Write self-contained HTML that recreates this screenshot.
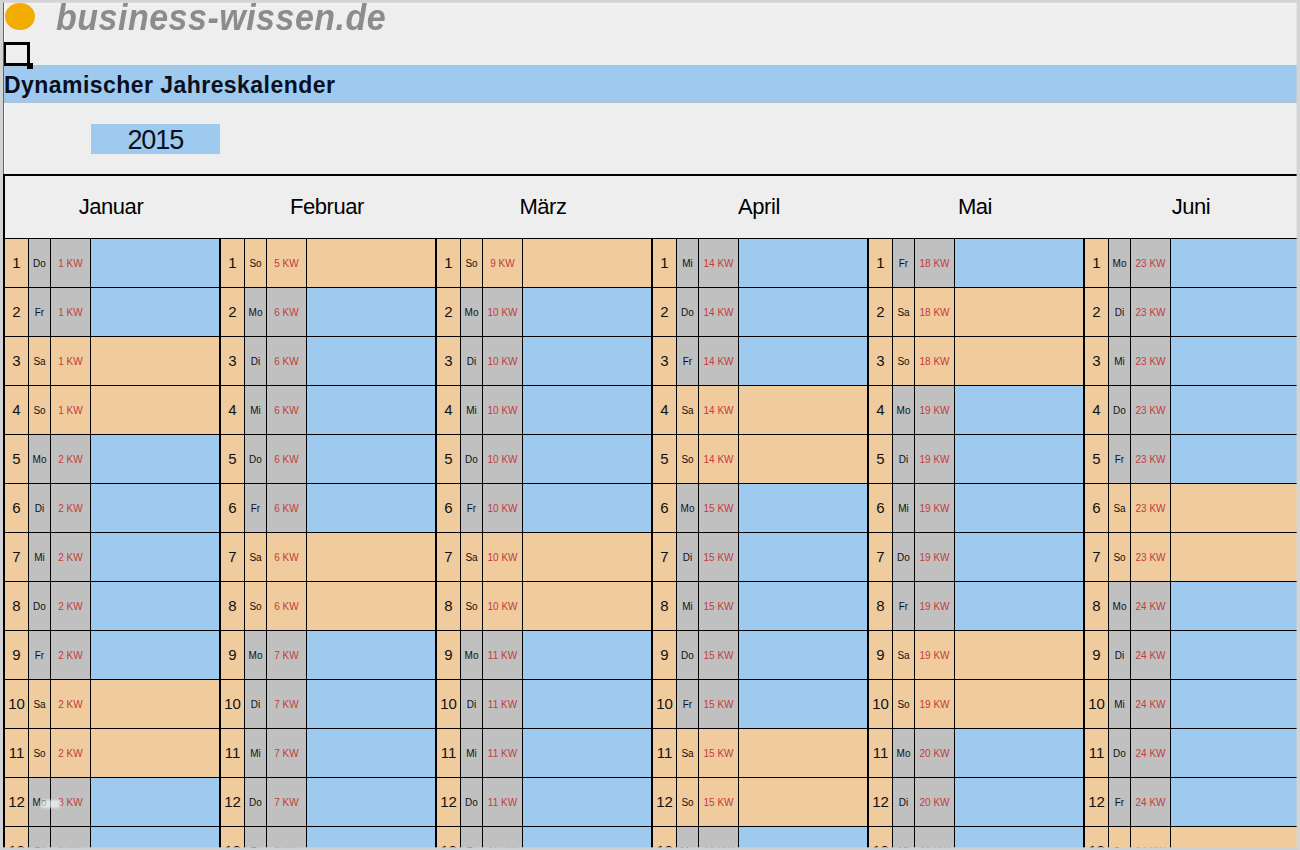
<!DOCTYPE html>
<html lang="de"><head><meta charset="utf-8"><title>Dynamischer Jahreskalender</title>
<style>
*{margin:0;padding:0;box-sizing:border-box}
html,body{width:1300px;height:850px;overflow:hidden;background:#eeeeee;font-family:"Liberation Sans",Arial,sans-serif}
.a{position:absolute}
.c{position:absolute;text-align:center;white-space:nowrap}
.n{font-size:15px;color:#111111}
.w{font-size:10px;color:#111111}
.k{font-size:10px;color:#c43c3c}
.m{font-size:22px;letter-spacing:-0.45px;color:#000}
</style></head><body>
<div class="a" style="left:0px;top:3px;width:1300px;height:2px;background:#f1f1f1;"></div><div class="a" style="left:0px;top:7px;width:1300px;height:1px;background:#f2f2f2;"></div><div class="a" style="left:3px;top:0px;width:1px;height:175px;background:#666666;"></div><div class="a" style="left:4px;top:5px;width:1px;height:170px;background:#f8f8f8;"></div><div class="a" style="left:5px;top:2.5px;width:30px;height:27.5px;border-radius:50%;background:#f2ac00"></div><div class="a" style="left:0px;top:0px;width:1300px;height:2px;background:#d3d3d3;"></div><div class="a" style="left:0px;top:2px;width:1300px;height:1px;background:rgba(208,208,208,0.6);"></div><div class="a" style="left:0px;top:0px;width:3px;height:850px;background:#d3d3d3;"></div><div class="a" style="left:56px;top:-4px;font:italic bold 34px/40px 'Liberation Sans',sans-serif;letter-spacing:0.5px;transform:scaleY(1.06);transform-origin:0 0;color:#8c8c8c;white-space:nowrap">business-wissen.de</div><div class="a" style="left:4px;top:65px;width:1293px;height:38px;background:#9ecaef;"></div><div class="a" style="left:4px;top:65px;width:1293px;height:2px;background:#a5c6df;"></div><div class="a" style="left:4px;top:100px;width:1293px;height:3px;background:#a6c5dc;"></div><div class="a" style="left:4px;top:64px;width:1293px;height:1px;background:#e6f3fa;"></div><div class="a" style="left:4px;top:103px;width:1293px;height:1px;background:#e9f2f8;"></div><div class="a" style="left:4px;top:72px;font:bold 23px/26px 'Liberation Sans',sans-serif;letter-spacing:0.45px;color:#0a0f1e;white-space:nowrap">Dynamischer Jahreskalender</div><div class="a" style="left:4px;top:42px;width:26px;height:24px;border:3px solid #000;border-left-width:2px"></div><div class="a" style="left:27px;top:63px;width:6px;height:6px;background:#000;"></div><div class="a" style="left:91px;top:124px;width:129px;height:30px;background:#9ecaef;"></div><div class="c" style="left:91px;top:124px;width:129px;height:30px;font-size:27px;line-height:33px;letter-spacing:-1.1px;text-indent:-0.5px;color:#0a1020">2015</div><div class="a" style="left:3px;top:174px;width:1294px;height:2px;background:#000;"></div><div class="a" style="left:3px;top:174px;width:2px;height:64px;background:#000;"></div><div class="c m" style="left:3px;top:194px;width:216px;height:26px;line-height:26px">Januar</div><div class="c m" style="left:219px;top:194px;width:216px;height:26px;line-height:26px">Februar</div><div class="c m" style="left:435px;top:194px;width:216px;height:26px;line-height:26px">März</div><div class="c m" style="left:651px;top:194px;width:216px;height:26px;line-height:26px">April</div><div class="c m" style="left:867px;top:194px;width:216px;height:26px;line-height:26px">Mai</div><div class="c m" style="left:1083px;top:194px;width:216px;height:26px;line-height:26px">Juni</div><div class="a" style="left:5px;top:239px;width:23px;height:48px;background:#efcb9d;"></div><div class="a" style="left:29px;top:239px;width:21px;height:48px;background:#c0c0c0;"></div><div class="a" style="left:51px;top:239px;width:39px;height:48px;background:#c0c0c0;"></div><div class="a" style="left:91px;top:239px;width:128px;height:48px;background:#9ecaef;"></div><div class="c n" style="left:5px;top:239px;width:23px;height:48px;line-height:48px">1</div><div class="c w" style="left:29px;top:240px;width:21px;height:48px;line-height:48px">Do</div><div class="c k" style="left:51px;top:240px;width:39px;height:48px;line-height:48px">1 KW</div><div class="a" style="left:5px;top:288px;width:23px;height:48px;background:#efcb9d;"></div><div class="a" style="left:29px;top:288px;width:21px;height:48px;background:#c0c0c0;"></div><div class="a" style="left:51px;top:288px;width:39px;height:48px;background:#c0c0c0;"></div><div class="a" style="left:91px;top:288px;width:128px;height:48px;background:#9ecaef;"></div><div class="c n" style="left:5px;top:288px;width:23px;height:48px;line-height:48px">2</div><div class="c w" style="left:29px;top:289px;width:21px;height:48px;line-height:48px">Fr</div><div class="c k" style="left:51px;top:289px;width:39px;height:48px;line-height:48px">1 KW</div><div class="a" style="left:5px;top:337px;width:23px;height:48px;background:#efcb9d;"></div><div class="a" style="left:29px;top:337px;width:21px;height:48px;background:#efcb9d;"></div><div class="a" style="left:51px;top:337px;width:39px;height:48px;background:#efcb9d;"></div><div class="a" style="left:91px;top:337px;width:128px;height:48px;background:#efcb9d;"></div><div class="c n" style="left:5px;top:337px;width:23px;height:48px;line-height:48px">3</div><div class="c w" style="left:29px;top:338px;width:21px;height:48px;line-height:48px">Sa</div><div class="c k" style="left:51px;top:338px;width:39px;height:48px;line-height:48px">1 KW</div><div class="a" style="left:5px;top:386px;width:23px;height:48px;background:#efcb9d;"></div><div class="a" style="left:29px;top:386px;width:21px;height:48px;background:#efcb9d;"></div><div class="a" style="left:51px;top:386px;width:39px;height:48px;background:#efcb9d;"></div><div class="a" style="left:91px;top:386px;width:128px;height:48px;background:#efcb9d;"></div><div class="c n" style="left:5px;top:386px;width:23px;height:48px;line-height:48px">4</div><div class="c w" style="left:29px;top:387px;width:21px;height:48px;line-height:48px">So</div><div class="c k" style="left:51px;top:387px;width:39px;height:48px;line-height:48px">1 KW</div><div class="a" style="left:5px;top:435px;width:23px;height:48px;background:#efcb9d;"></div><div class="a" style="left:29px;top:435px;width:21px;height:48px;background:#c0c0c0;"></div><div class="a" style="left:51px;top:435px;width:39px;height:48px;background:#c0c0c0;"></div><div class="a" style="left:91px;top:435px;width:128px;height:48px;background:#9ecaef;"></div><div class="c n" style="left:5px;top:435px;width:23px;height:48px;line-height:48px">5</div><div class="c w" style="left:29px;top:436px;width:21px;height:48px;line-height:48px">Mo</div><div class="c k" style="left:51px;top:436px;width:39px;height:48px;line-height:48px">2 KW</div><div class="a" style="left:5px;top:484px;width:23px;height:48px;background:#efcb9d;"></div><div class="a" style="left:29px;top:484px;width:21px;height:48px;background:#c0c0c0;"></div><div class="a" style="left:51px;top:484px;width:39px;height:48px;background:#c0c0c0;"></div><div class="a" style="left:91px;top:484px;width:128px;height:48px;background:#9ecaef;"></div><div class="c n" style="left:5px;top:484px;width:23px;height:48px;line-height:48px">6</div><div class="c w" style="left:29px;top:485px;width:21px;height:48px;line-height:48px">Di</div><div class="c k" style="left:51px;top:485px;width:39px;height:48px;line-height:48px">2 KW</div><div class="a" style="left:5px;top:533px;width:23px;height:48px;background:#efcb9d;"></div><div class="a" style="left:29px;top:533px;width:21px;height:48px;background:#c0c0c0;"></div><div class="a" style="left:51px;top:533px;width:39px;height:48px;background:#c0c0c0;"></div><div class="a" style="left:91px;top:533px;width:128px;height:48px;background:#9ecaef;"></div><div class="c n" style="left:5px;top:533px;width:23px;height:48px;line-height:48px">7</div><div class="c w" style="left:29px;top:534px;width:21px;height:48px;line-height:48px">Mi</div><div class="c k" style="left:51px;top:534px;width:39px;height:48px;line-height:48px">2 KW</div><div class="a" style="left:5px;top:582px;width:23px;height:48px;background:#efcb9d;"></div><div class="a" style="left:29px;top:582px;width:21px;height:48px;background:#c0c0c0;"></div><div class="a" style="left:51px;top:582px;width:39px;height:48px;background:#c0c0c0;"></div><div class="a" style="left:91px;top:582px;width:128px;height:48px;background:#9ecaef;"></div><div class="c n" style="left:5px;top:582px;width:23px;height:48px;line-height:48px">8</div><div class="c w" style="left:29px;top:583px;width:21px;height:48px;line-height:48px">Do</div><div class="c k" style="left:51px;top:583px;width:39px;height:48px;line-height:48px">2 KW</div><div class="a" style="left:5px;top:631px;width:23px;height:48px;background:#efcb9d;"></div><div class="a" style="left:29px;top:631px;width:21px;height:48px;background:#c0c0c0;"></div><div class="a" style="left:51px;top:631px;width:39px;height:48px;background:#c0c0c0;"></div><div class="a" style="left:91px;top:631px;width:128px;height:48px;background:#9ecaef;"></div><div class="c n" style="left:5px;top:631px;width:23px;height:48px;line-height:48px">9</div><div class="c w" style="left:29px;top:632px;width:21px;height:48px;line-height:48px">Fr</div><div class="c k" style="left:51px;top:632px;width:39px;height:48px;line-height:48px">2 KW</div><div class="a" style="left:5px;top:680px;width:23px;height:48px;background:#efcb9d;"></div><div class="a" style="left:29px;top:680px;width:21px;height:48px;background:#efcb9d;"></div><div class="a" style="left:51px;top:680px;width:39px;height:48px;background:#efcb9d;"></div><div class="a" style="left:91px;top:680px;width:128px;height:48px;background:#efcb9d;"></div><div class="c n" style="left:5px;top:680px;width:23px;height:48px;line-height:48px">10</div><div class="c w" style="left:29px;top:681px;width:21px;height:48px;line-height:48px">Sa</div><div class="c k" style="left:51px;top:681px;width:39px;height:48px;line-height:48px">2 KW</div><div class="a" style="left:5px;top:729px;width:23px;height:48px;background:#efcb9d;"></div><div class="a" style="left:29px;top:729px;width:21px;height:48px;background:#efcb9d;"></div><div class="a" style="left:51px;top:729px;width:39px;height:48px;background:#efcb9d;"></div><div class="a" style="left:91px;top:729px;width:128px;height:48px;background:#efcb9d;"></div><div class="c n" style="left:5px;top:729px;width:23px;height:48px;line-height:48px">11</div><div class="c w" style="left:29px;top:730px;width:21px;height:48px;line-height:48px">So</div><div class="c k" style="left:51px;top:730px;width:39px;height:48px;line-height:48px">2 KW</div><div class="a" style="left:5px;top:778px;width:23px;height:48px;background:#efcb9d;"></div><div class="a" style="left:29px;top:778px;width:21px;height:48px;background:#c0c0c0;"></div><div class="a" style="left:51px;top:778px;width:39px;height:48px;background:#c0c0c0;"></div><div class="a" style="left:91px;top:778px;width:128px;height:48px;background:#9ecaef;"></div><div class="c n" style="left:5px;top:778px;width:23px;height:48px;line-height:48px">12</div><div class="c w" style="left:29px;top:779px;width:21px;height:48px;line-height:48px">Mo</div><div class="c k" style="left:51px;top:779px;width:39px;height:48px;line-height:48px">3 KW</div><div class="a" style="left:5px;top:827px;width:23px;height:48px;background:#efcb9d;"></div><div class="a" style="left:29px;top:827px;width:21px;height:48px;background:#c0c0c0;"></div><div class="a" style="left:51px;top:827px;width:39px;height:48px;background:#c0c0c0;"></div><div class="a" style="left:91px;top:827px;width:128px;height:48px;background:#9ecaef;"></div><div class="c n" style="left:5px;top:827px;width:23px;height:48px;line-height:48px">13</div><div class="c w" style="left:29px;top:828px;width:21px;height:48px;line-height:48px">Di</div><div class="c k" style="left:51px;top:828px;width:39px;height:48px;line-height:48px">3 KW</div><div class="a" style="left:221px;top:239px;width:23px;height:48px;background:#efcb9d;"></div><div class="a" style="left:245px;top:239px;width:21px;height:48px;background:#efcb9d;"></div><div class="a" style="left:267px;top:239px;width:39px;height:48px;background:#efcb9d;"></div><div class="a" style="left:307px;top:239px;width:128px;height:48px;background:#efcb9d;"></div><div class="c n" style="left:221px;top:239px;width:23px;height:48px;line-height:48px">1</div><div class="c w" style="left:245px;top:240px;width:21px;height:48px;line-height:48px">So</div><div class="c k" style="left:267px;top:240px;width:39px;height:48px;line-height:48px">5 KW</div><div class="a" style="left:221px;top:288px;width:23px;height:48px;background:#efcb9d;"></div><div class="a" style="left:245px;top:288px;width:21px;height:48px;background:#c0c0c0;"></div><div class="a" style="left:267px;top:288px;width:39px;height:48px;background:#c0c0c0;"></div><div class="a" style="left:307px;top:288px;width:128px;height:48px;background:#9ecaef;"></div><div class="c n" style="left:221px;top:288px;width:23px;height:48px;line-height:48px">2</div><div class="c w" style="left:245px;top:289px;width:21px;height:48px;line-height:48px">Mo</div><div class="c k" style="left:267px;top:289px;width:39px;height:48px;line-height:48px">6 KW</div><div class="a" style="left:221px;top:337px;width:23px;height:48px;background:#efcb9d;"></div><div class="a" style="left:245px;top:337px;width:21px;height:48px;background:#c0c0c0;"></div><div class="a" style="left:267px;top:337px;width:39px;height:48px;background:#c0c0c0;"></div><div class="a" style="left:307px;top:337px;width:128px;height:48px;background:#9ecaef;"></div><div class="c n" style="left:221px;top:337px;width:23px;height:48px;line-height:48px">3</div><div class="c w" style="left:245px;top:338px;width:21px;height:48px;line-height:48px">Di</div><div class="c k" style="left:267px;top:338px;width:39px;height:48px;line-height:48px">6 KW</div><div class="a" style="left:221px;top:386px;width:23px;height:48px;background:#efcb9d;"></div><div class="a" style="left:245px;top:386px;width:21px;height:48px;background:#c0c0c0;"></div><div class="a" style="left:267px;top:386px;width:39px;height:48px;background:#c0c0c0;"></div><div class="a" style="left:307px;top:386px;width:128px;height:48px;background:#9ecaef;"></div><div class="c n" style="left:221px;top:386px;width:23px;height:48px;line-height:48px">4</div><div class="c w" style="left:245px;top:387px;width:21px;height:48px;line-height:48px">Mi</div><div class="c k" style="left:267px;top:387px;width:39px;height:48px;line-height:48px">6 KW</div><div class="a" style="left:221px;top:435px;width:23px;height:48px;background:#efcb9d;"></div><div class="a" style="left:245px;top:435px;width:21px;height:48px;background:#c0c0c0;"></div><div class="a" style="left:267px;top:435px;width:39px;height:48px;background:#c0c0c0;"></div><div class="a" style="left:307px;top:435px;width:128px;height:48px;background:#9ecaef;"></div><div class="c n" style="left:221px;top:435px;width:23px;height:48px;line-height:48px">5</div><div class="c w" style="left:245px;top:436px;width:21px;height:48px;line-height:48px">Do</div><div class="c k" style="left:267px;top:436px;width:39px;height:48px;line-height:48px">6 KW</div><div class="a" style="left:221px;top:484px;width:23px;height:48px;background:#efcb9d;"></div><div class="a" style="left:245px;top:484px;width:21px;height:48px;background:#c0c0c0;"></div><div class="a" style="left:267px;top:484px;width:39px;height:48px;background:#c0c0c0;"></div><div class="a" style="left:307px;top:484px;width:128px;height:48px;background:#9ecaef;"></div><div class="c n" style="left:221px;top:484px;width:23px;height:48px;line-height:48px">6</div><div class="c w" style="left:245px;top:485px;width:21px;height:48px;line-height:48px">Fr</div><div class="c k" style="left:267px;top:485px;width:39px;height:48px;line-height:48px">6 KW</div><div class="a" style="left:221px;top:533px;width:23px;height:48px;background:#efcb9d;"></div><div class="a" style="left:245px;top:533px;width:21px;height:48px;background:#efcb9d;"></div><div class="a" style="left:267px;top:533px;width:39px;height:48px;background:#efcb9d;"></div><div class="a" style="left:307px;top:533px;width:128px;height:48px;background:#efcb9d;"></div><div class="c n" style="left:221px;top:533px;width:23px;height:48px;line-height:48px">7</div><div class="c w" style="left:245px;top:534px;width:21px;height:48px;line-height:48px">Sa</div><div class="c k" style="left:267px;top:534px;width:39px;height:48px;line-height:48px">6 KW</div><div class="a" style="left:221px;top:582px;width:23px;height:48px;background:#efcb9d;"></div><div class="a" style="left:245px;top:582px;width:21px;height:48px;background:#efcb9d;"></div><div class="a" style="left:267px;top:582px;width:39px;height:48px;background:#efcb9d;"></div><div class="a" style="left:307px;top:582px;width:128px;height:48px;background:#efcb9d;"></div><div class="c n" style="left:221px;top:582px;width:23px;height:48px;line-height:48px">8</div><div class="c w" style="left:245px;top:583px;width:21px;height:48px;line-height:48px">So</div><div class="c k" style="left:267px;top:583px;width:39px;height:48px;line-height:48px">6 KW</div><div class="a" style="left:221px;top:631px;width:23px;height:48px;background:#efcb9d;"></div><div class="a" style="left:245px;top:631px;width:21px;height:48px;background:#c0c0c0;"></div><div class="a" style="left:267px;top:631px;width:39px;height:48px;background:#c0c0c0;"></div><div class="a" style="left:307px;top:631px;width:128px;height:48px;background:#9ecaef;"></div><div class="c n" style="left:221px;top:631px;width:23px;height:48px;line-height:48px">9</div><div class="c w" style="left:245px;top:632px;width:21px;height:48px;line-height:48px">Mo</div><div class="c k" style="left:267px;top:632px;width:39px;height:48px;line-height:48px">7 KW</div><div class="a" style="left:221px;top:680px;width:23px;height:48px;background:#efcb9d;"></div><div class="a" style="left:245px;top:680px;width:21px;height:48px;background:#c0c0c0;"></div><div class="a" style="left:267px;top:680px;width:39px;height:48px;background:#c0c0c0;"></div><div class="a" style="left:307px;top:680px;width:128px;height:48px;background:#9ecaef;"></div><div class="c n" style="left:221px;top:680px;width:23px;height:48px;line-height:48px">10</div><div class="c w" style="left:245px;top:681px;width:21px;height:48px;line-height:48px">Di</div><div class="c k" style="left:267px;top:681px;width:39px;height:48px;line-height:48px">7 KW</div><div class="a" style="left:221px;top:729px;width:23px;height:48px;background:#efcb9d;"></div><div class="a" style="left:245px;top:729px;width:21px;height:48px;background:#c0c0c0;"></div><div class="a" style="left:267px;top:729px;width:39px;height:48px;background:#c0c0c0;"></div><div class="a" style="left:307px;top:729px;width:128px;height:48px;background:#9ecaef;"></div><div class="c n" style="left:221px;top:729px;width:23px;height:48px;line-height:48px">11</div><div class="c w" style="left:245px;top:730px;width:21px;height:48px;line-height:48px">Mi</div><div class="c k" style="left:267px;top:730px;width:39px;height:48px;line-height:48px">7 KW</div><div class="a" style="left:221px;top:778px;width:23px;height:48px;background:#efcb9d;"></div><div class="a" style="left:245px;top:778px;width:21px;height:48px;background:#c0c0c0;"></div><div class="a" style="left:267px;top:778px;width:39px;height:48px;background:#c0c0c0;"></div><div class="a" style="left:307px;top:778px;width:128px;height:48px;background:#9ecaef;"></div><div class="c n" style="left:221px;top:778px;width:23px;height:48px;line-height:48px">12</div><div class="c w" style="left:245px;top:779px;width:21px;height:48px;line-height:48px">Do</div><div class="c k" style="left:267px;top:779px;width:39px;height:48px;line-height:48px">7 KW</div><div class="a" style="left:221px;top:827px;width:23px;height:48px;background:#efcb9d;"></div><div class="a" style="left:245px;top:827px;width:21px;height:48px;background:#c0c0c0;"></div><div class="a" style="left:267px;top:827px;width:39px;height:48px;background:#c0c0c0;"></div><div class="a" style="left:307px;top:827px;width:128px;height:48px;background:#9ecaef;"></div><div class="c n" style="left:221px;top:827px;width:23px;height:48px;line-height:48px">13</div><div class="c w" style="left:245px;top:828px;width:21px;height:48px;line-height:48px">Fr</div><div class="c k" style="left:267px;top:828px;width:39px;height:48px;line-height:48px">7 KW</div><div class="a" style="left:437px;top:239px;width:23px;height:48px;background:#efcb9d;"></div><div class="a" style="left:461px;top:239px;width:21px;height:48px;background:#efcb9d;"></div><div class="a" style="left:483px;top:239px;width:39px;height:48px;background:#efcb9d;"></div><div class="a" style="left:523px;top:239px;width:128px;height:48px;background:#efcb9d;"></div><div class="c n" style="left:437px;top:239px;width:23px;height:48px;line-height:48px">1</div><div class="c w" style="left:461px;top:240px;width:21px;height:48px;line-height:48px">So</div><div class="c k" style="left:483px;top:240px;width:39px;height:48px;line-height:48px">9 KW</div><div class="a" style="left:437px;top:288px;width:23px;height:48px;background:#efcb9d;"></div><div class="a" style="left:461px;top:288px;width:21px;height:48px;background:#c0c0c0;"></div><div class="a" style="left:483px;top:288px;width:39px;height:48px;background:#c0c0c0;"></div><div class="a" style="left:523px;top:288px;width:128px;height:48px;background:#9ecaef;"></div><div class="c n" style="left:437px;top:288px;width:23px;height:48px;line-height:48px">2</div><div class="c w" style="left:461px;top:289px;width:21px;height:48px;line-height:48px">Mo</div><div class="c k" style="left:483px;top:289px;width:39px;height:48px;line-height:48px">10 KW</div><div class="a" style="left:437px;top:337px;width:23px;height:48px;background:#efcb9d;"></div><div class="a" style="left:461px;top:337px;width:21px;height:48px;background:#c0c0c0;"></div><div class="a" style="left:483px;top:337px;width:39px;height:48px;background:#c0c0c0;"></div><div class="a" style="left:523px;top:337px;width:128px;height:48px;background:#9ecaef;"></div><div class="c n" style="left:437px;top:337px;width:23px;height:48px;line-height:48px">3</div><div class="c w" style="left:461px;top:338px;width:21px;height:48px;line-height:48px">Di</div><div class="c k" style="left:483px;top:338px;width:39px;height:48px;line-height:48px">10 KW</div><div class="a" style="left:437px;top:386px;width:23px;height:48px;background:#efcb9d;"></div><div class="a" style="left:461px;top:386px;width:21px;height:48px;background:#c0c0c0;"></div><div class="a" style="left:483px;top:386px;width:39px;height:48px;background:#c0c0c0;"></div><div class="a" style="left:523px;top:386px;width:128px;height:48px;background:#9ecaef;"></div><div class="c n" style="left:437px;top:386px;width:23px;height:48px;line-height:48px">4</div><div class="c w" style="left:461px;top:387px;width:21px;height:48px;line-height:48px">Mi</div><div class="c k" style="left:483px;top:387px;width:39px;height:48px;line-height:48px">10 KW</div><div class="a" style="left:437px;top:435px;width:23px;height:48px;background:#efcb9d;"></div><div class="a" style="left:461px;top:435px;width:21px;height:48px;background:#c0c0c0;"></div><div class="a" style="left:483px;top:435px;width:39px;height:48px;background:#c0c0c0;"></div><div class="a" style="left:523px;top:435px;width:128px;height:48px;background:#9ecaef;"></div><div class="c n" style="left:437px;top:435px;width:23px;height:48px;line-height:48px">5</div><div class="c w" style="left:461px;top:436px;width:21px;height:48px;line-height:48px">Do</div><div class="c k" style="left:483px;top:436px;width:39px;height:48px;line-height:48px">10 KW</div><div class="a" style="left:437px;top:484px;width:23px;height:48px;background:#efcb9d;"></div><div class="a" style="left:461px;top:484px;width:21px;height:48px;background:#c0c0c0;"></div><div class="a" style="left:483px;top:484px;width:39px;height:48px;background:#c0c0c0;"></div><div class="a" style="left:523px;top:484px;width:128px;height:48px;background:#9ecaef;"></div><div class="c n" style="left:437px;top:484px;width:23px;height:48px;line-height:48px">6</div><div class="c w" style="left:461px;top:485px;width:21px;height:48px;line-height:48px">Fr</div><div class="c k" style="left:483px;top:485px;width:39px;height:48px;line-height:48px">10 KW</div><div class="a" style="left:437px;top:533px;width:23px;height:48px;background:#efcb9d;"></div><div class="a" style="left:461px;top:533px;width:21px;height:48px;background:#efcb9d;"></div><div class="a" style="left:483px;top:533px;width:39px;height:48px;background:#efcb9d;"></div><div class="a" style="left:523px;top:533px;width:128px;height:48px;background:#efcb9d;"></div><div class="c n" style="left:437px;top:533px;width:23px;height:48px;line-height:48px">7</div><div class="c w" style="left:461px;top:534px;width:21px;height:48px;line-height:48px">Sa</div><div class="c k" style="left:483px;top:534px;width:39px;height:48px;line-height:48px">10 KW</div><div class="a" style="left:437px;top:582px;width:23px;height:48px;background:#efcb9d;"></div><div class="a" style="left:461px;top:582px;width:21px;height:48px;background:#efcb9d;"></div><div class="a" style="left:483px;top:582px;width:39px;height:48px;background:#efcb9d;"></div><div class="a" style="left:523px;top:582px;width:128px;height:48px;background:#efcb9d;"></div><div class="c n" style="left:437px;top:582px;width:23px;height:48px;line-height:48px">8</div><div class="c w" style="left:461px;top:583px;width:21px;height:48px;line-height:48px">So</div><div class="c k" style="left:483px;top:583px;width:39px;height:48px;line-height:48px">10 KW</div><div class="a" style="left:437px;top:631px;width:23px;height:48px;background:#efcb9d;"></div><div class="a" style="left:461px;top:631px;width:21px;height:48px;background:#c0c0c0;"></div><div class="a" style="left:483px;top:631px;width:39px;height:48px;background:#c0c0c0;"></div><div class="a" style="left:523px;top:631px;width:128px;height:48px;background:#9ecaef;"></div><div class="c n" style="left:437px;top:631px;width:23px;height:48px;line-height:48px">9</div><div class="c w" style="left:461px;top:632px;width:21px;height:48px;line-height:48px">Mo</div><div class="c k" style="left:483px;top:632px;width:39px;height:48px;line-height:48px">11 KW</div><div class="a" style="left:437px;top:680px;width:23px;height:48px;background:#efcb9d;"></div><div class="a" style="left:461px;top:680px;width:21px;height:48px;background:#c0c0c0;"></div><div class="a" style="left:483px;top:680px;width:39px;height:48px;background:#c0c0c0;"></div><div class="a" style="left:523px;top:680px;width:128px;height:48px;background:#9ecaef;"></div><div class="c n" style="left:437px;top:680px;width:23px;height:48px;line-height:48px">10</div><div class="c w" style="left:461px;top:681px;width:21px;height:48px;line-height:48px">Di</div><div class="c k" style="left:483px;top:681px;width:39px;height:48px;line-height:48px">11 KW</div><div class="a" style="left:437px;top:729px;width:23px;height:48px;background:#efcb9d;"></div><div class="a" style="left:461px;top:729px;width:21px;height:48px;background:#c0c0c0;"></div><div class="a" style="left:483px;top:729px;width:39px;height:48px;background:#c0c0c0;"></div><div class="a" style="left:523px;top:729px;width:128px;height:48px;background:#9ecaef;"></div><div class="c n" style="left:437px;top:729px;width:23px;height:48px;line-height:48px">11</div><div class="c w" style="left:461px;top:730px;width:21px;height:48px;line-height:48px">Mi</div><div class="c k" style="left:483px;top:730px;width:39px;height:48px;line-height:48px">11 KW</div><div class="a" style="left:437px;top:778px;width:23px;height:48px;background:#efcb9d;"></div><div class="a" style="left:461px;top:778px;width:21px;height:48px;background:#c0c0c0;"></div><div class="a" style="left:483px;top:778px;width:39px;height:48px;background:#c0c0c0;"></div><div class="a" style="left:523px;top:778px;width:128px;height:48px;background:#9ecaef;"></div><div class="c n" style="left:437px;top:778px;width:23px;height:48px;line-height:48px">12</div><div class="c w" style="left:461px;top:779px;width:21px;height:48px;line-height:48px">Do</div><div class="c k" style="left:483px;top:779px;width:39px;height:48px;line-height:48px">11 KW</div><div class="a" style="left:437px;top:827px;width:23px;height:48px;background:#efcb9d;"></div><div class="a" style="left:461px;top:827px;width:21px;height:48px;background:#c0c0c0;"></div><div class="a" style="left:483px;top:827px;width:39px;height:48px;background:#c0c0c0;"></div><div class="a" style="left:523px;top:827px;width:128px;height:48px;background:#9ecaef;"></div><div class="c n" style="left:437px;top:827px;width:23px;height:48px;line-height:48px">13</div><div class="c w" style="left:461px;top:828px;width:21px;height:48px;line-height:48px">Fr</div><div class="c k" style="left:483px;top:828px;width:39px;height:48px;line-height:48px">11 KW</div><div class="a" style="left:653px;top:239px;width:23px;height:48px;background:#efcb9d;"></div><div class="a" style="left:677px;top:239px;width:21px;height:48px;background:#c0c0c0;"></div><div class="a" style="left:699px;top:239px;width:39px;height:48px;background:#c0c0c0;"></div><div class="a" style="left:739px;top:239px;width:128px;height:48px;background:#9ecaef;"></div><div class="c n" style="left:653px;top:239px;width:23px;height:48px;line-height:48px">1</div><div class="c w" style="left:677px;top:240px;width:21px;height:48px;line-height:48px">Mi</div><div class="c k" style="left:699px;top:240px;width:39px;height:48px;line-height:48px">14 KW</div><div class="a" style="left:653px;top:288px;width:23px;height:48px;background:#efcb9d;"></div><div class="a" style="left:677px;top:288px;width:21px;height:48px;background:#c0c0c0;"></div><div class="a" style="left:699px;top:288px;width:39px;height:48px;background:#c0c0c0;"></div><div class="a" style="left:739px;top:288px;width:128px;height:48px;background:#9ecaef;"></div><div class="c n" style="left:653px;top:288px;width:23px;height:48px;line-height:48px">2</div><div class="c w" style="left:677px;top:289px;width:21px;height:48px;line-height:48px">Do</div><div class="c k" style="left:699px;top:289px;width:39px;height:48px;line-height:48px">14 KW</div><div class="a" style="left:653px;top:337px;width:23px;height:48px;background:#efcb9d;"></div><div class="a" style="left:677px;top:337px;width:21px;height:48px;background:#c0c0c0;"></div><div class="a" style="left:699px;top:337px;width:39px;height:48px;background:#c0c0c0;"></div><div class="a" style="left:739px;top:337px;width:128px;height:48px;background:#9ecaef;"></div><div class="c n" style="left:653px;top:337px;width:23px;height:48px;line-height:48px">3</div><div class="c w" style="left:677px;top:338px;width:21px;height:48px;line-height:48px">Fr</div><div class="c k" style="left:699px;top:338px;width:39px;height:48px;line-height:48px">14 KW</div><div class="a" style="left:653px;top:386px;width:23px;height:48px;background:#efcb9d;"></div><div class="a" style="left:677px;top:386px;width:21px;height:48px;background:#efcb9d;"></div><div class="a" style="left:699px;top:386px;width:39px;height:48px;background:#efcb9d;"></div><div class="a" style="left:739px;top:386px;width:128px;height:48px;background:#efcb9d;"></div><div class="c n" style="left:653px;top:386px;width:23px;height:48px;line-height:48px">4</div><div class="c w" style="left:677px;top:387px;width:21px;height:48px;line-height:48px">Sa</div><div class="c k" style="left:699px;top:387px;width:39px;height:48px;line-height:48px">14 KW</div><div class="a" style="left:653px;top:435px;width:23px;height:48px;background:#efcb9d;"></div><div class="a" style="left:677px;top:435px;width:21px;height:48px;background:#efcb9d;"></div><div class="a" style="left:699px;top:435px;width:39px;height:48px;background:#efcb9d;"></div><div class="a" style="left:739px;top:435px;width:128px;height:48px;background:#efcb9d;"></div><div class="c n" style="left:653px;top:435px;width:23px;height:48px;line-height:48px">5</div><div class="c w" style="left:677px;top:436px;width:21px;height:48px;line-height:48px">So</div><div class="c k" style="left:699px;top:436px;width:39px;height:48px;line-height:48px">14 KW</div><div class="a" style="left:653px;top:484px;width:23px;height:48px;background:#efcb9d;"></div><div class="a" style="left:677px;top:484px;width:21px;height:48px;background:#c0c0c0;"></div><div class="a" style="left:699px;top:484px;width:39px;height:48px;background:#c0c0c0;"></div><div class="a" style="left:739px;top:484px;width:128px;height:48px;background:#9ecaef;"></div><div class="c n" style="left:653px;top:484px;width:23px;height:48px;line-height:48px">6</div><div class="c w" style="left:677px;top:485px;width:21px;height:48px;line-height:48px">Mo</div><div class="c k" style="left:699px;top:485px;width:39px;height:48px;line-height:48px">15 KW</div><div class="a" style="left:653px;top:533px;width:23px;height:48px;background:#efcb9d;"></div><div class="a" style="left:677px;top:533px;width:21px;height:48px;background:#c0c0c0;"></div><div class="a" style="left:699px;top:533px;width:39px;height:48px;background:#c0c0c0;"></div><div class="a" style="left:739px;top:533px;width:128px;height:48px;background:#9ecaef;"></div><div class="c n" style="left:653px;top:533px;width:23px;height:48px;line-height:48px">7</div><div class="c w" style="left:677px;top:534px;width:21px;height:48px;line-height:48px">Di</div><div class="c k" style="left:699px;top:534px;width:39px;height:48px;line-height:48px">15 KW</div><div class="a" style="left:653px;top:582px;width:23px;height:48px;background:#efcb9d;"></div><div class="a" style="left:677px;top:582px;width:21px;height:48px;background:#c0c0c0;"></div><div class="a" style="left:699px;top:582px;width:39px;height:48px;background:#c0c0c0;"></div><div class="a" style="left:739px;top:582px;width:128px;height:48px;background:#9ecaef;"></div><div class="c n" style="left:653px;top:582px;width:23px;height:48px;line-height:48px">8</div><div class="c w" style="left:677px;top:583px;width:21px;height:48px;line-height:48px">Mi</div><div class="c k" style="left:699px;top:583px;width:39px;height:48px;line-height:48px">15 KW</div><div class="a" style="left:653px;top:631px;width:23px;height:48px;background:#efcb9d;"></div><div class="a" style="left:677px;top:631px;width:21px;height:48px;background:#c0c0c0;"></div><div class="a" style="left:699px;top:631px;width:39px;height:48px;background:#c0c0c0;"></div><div class="a" style="left:739px;top:631px;width:128px;height:48px;background:#9ecaef;"></div><div class="c n" style="left:653px;top:631px;width:23px;height:48px;line-height:48px">9</div><div class="c w" style="left:677px;top:632px;width:21px;height:48px;line-height:48px">Do</div><div class="c k" style="left:699px;top:632px;width:39px;height:48px;line-height:48px">15 KW</div><div class="a" style="left:653px;top:680px;width:23px;height:48px;background:#efcb9d;"></div><div class="a" style="left:677px;top:680px;width:21px;height:48px;background:#c0c0c0;"></div><div class="a" style="left:699px;top:680px;width:39px;height:48px;background:#c0c0c0;"></div><div class="a" style="left:739px;top:680px;width:128px;height:48px;background:#9ecaef;"></div><div class="c n" style="left:653px;top:680px;width:23px;height:48px;line-height:48px">10</div><div class="c w" style="left:677px;top:681px;width:21px;height:48px;line-height:48px">Fr</div><div class="c k" style="left:699px;top:681px;width:39px;height:48px;line-height:48px">15 KW</div><div class="a" style="left:653px;top:729px;width:23px;height:48px;background:#efcb9d;"></div><div class="a" style="left:677px;top:729px;width:21px;height:48px;background:#efcb9d;"></div><div class="a" style="left:699px;top:729px;width:39px;height:48px;background:#efcb9d;"></div><div class="a" style="left:739px;top:729px;width:128px;height:48px;background:#efcb9d;"></div><div class="c n" style="left:653px;top:729px;width:23px;height:48px;line-height:48px">11</div><div class="c w" style="left:677px;top:730px;width:21px;height:48px;line-height:48px">Sa</div><div class="c k" style="left:699px;top:730px;width:39px;height:48px;line-height:48px">15 KW</div><div class="a" style="left:653px;top:778px;width:23px;height:48px;background:#efcb9d;"></div><div class="a" style="left:677px;top:778px;width:21px;height:48px;background:#efcb9d;"></div><div class="a" style="left:699px;top:778px;width:39px;height:48px;background:#efcb9d;"></div><div class="a" style="left:739px;top:778px;width:128px;height:48px;background:#efcb9d;"></div><div class="c n" style="left:653px;top:778px;width:23px;height:48px;line-height:48px">12</div><div class="c w" style="left:677px;top:779px;width:21px;height:48px;line-height:48px">So</div><div class="c k" style="left:699px;top:779px;width:39px;height:48px;line-height:48px">15 KW</div><div class="a" style="left:653px;top:827px;width:23px;height:48px;background:#efcb9d;"></div><div class="a" style="left:677px;top:827px;width:21px;height:48px;background:#c0c0c0;"></div><div class="a" style="left:699px;top:827px;width:39px;height:48px;background:#c0c0c0;"></div><div class="a" style="left:739px;top:827px;width:128px;height:48px;background:#9ecaef;"></div><div class="c n" style="left:653px;top:827px;width:23px;height:48px;line-height:48px">13</div><div class="c w" style="left:677px;top:828px;width:21px;height:48px;line-height:48px">Mo</div><div class="c k" style="left:699px;top:828px;width:39px;height:48px;line-height:48px">16 KW</div><div class="a" style="left:869px;top:239px;width:23px;height:48px;background:#efcb9d;"></div><div class="a" style="left:893px;top:239px;width:21px;height:48px;background:#c0c0c0;"></div><div class="a" style="left:915px;top:239px;width:39px;height:48px;background:#c0c0c0;"></div><div class="a" style="left:955px;top:239px;width:128px;height:48px;background:#9ecaef;"></div><div class="c n" style="left:869px;top:239px;width:23px;height:48px;line-height:48px">1</div><div class="c w" style="left:893px;top:240px;width:21px;height:48px;line-height:48px">Fr</div><div class="c k" style="left:915px;top:240px;width:39px;height:48px;line-height:48px">18 KW</div><div class="a" style="left:869px;top:288px;width:23px;height:48px;background:#efcb9d;"></div><div class="a" style="left:893px;top:288px;width:21px;height:48px;background:#efcb9d;"></div><div class="a" style="left:915px;top:288px;width:39px;height:48px;background:#efcb9d;"></div><div class="a" style="left:955px;top:288px;width:128px;height:48px;background:#efcb9d;"></div><div class="c n" style="left:869px;top:288px;width:23px;height:48px;line-height:48px">2</div><div class="c w" style="left:893px;top:289px;width:21px;height:48px;line-height:48px">Sa</div><div class="c k" style="left:915px;top:289px;width:39px;height:48px;line-height:48px">18 KW</div><div class="a" style="left:869px;top:337px;width:23px;height:48px;background:#efcb9d;"></div><div class="a" style="left:893px;top:337px;width:21px;height:48px;background:#efcb9d;"></div><div class="a" style="left:915px;top:337px;width:39px;height:48px;background:#efcb9d;"></div><div class="a" style="left:955px;top:337px;width:128px;height:48px;background:#efcb9d;"></div><div class="c n" style="left:869px;top:337px;width:23px;height:48px;line-height:48px">3</div><div class="c w" style="left:893px;top:338px;width:21px;height:48px;line-height:48px">So</div><div class="c k" style="left:915px;top:338px;width:39px;height:48px;line-height:48px">18 KW</div><div class="a" style="left:869px;top:386px;width:23px;height:48px;background:#efcb9d;"></div><div class="a" style="left:893px;top:386px;width:21px;height:48px;background:#c0c0c0;"></div><div class="a" style="left:915px;top:386px;width:39px;height:48px;background:#c0c0c0;"></div><div class="a" style="left:955px;top:386px;width:128px;height:48px;background:#9ecaef;"></div><div class="c n" style="left:869px;top:386px;width:23px;height:48px;line-height:48px">4</div><div class="c w" style="left:893px;top:387px;width:21px;height:48px;line-height:48px">Mo</div><div class="c k" style="left:915px;top:387px;width:39px;height:48px;line-height:48px">19 KW</div><div class="a" style="left:869px;top:435px;width:23px;height:48px;background:#efcb9d;"></div><div class="a" style="left:893px;top:435px;width:21px;height:48px;background:#c0c0c0;"></div><div class="a" style="left:915px;top:435px;width:39px;height:48px;background:#c0c0c0;"></div><div class="a" style="left:955px;top:435px;width:128px;height:48px;background:#9ecaef;"></div><div class="c n" style="left:869px;top:435px;width:23px;height:48px;line-height:48px">5</div><div class="c w" style="left:893px;top:436px;width:21px;height:48px;line-height:48px">Di</div><div class="c k" style="left:915px;top:436px;width:39px;height:48px;line-height:48px">19 KW</div><div class="a" style="left:869px;top:484px;width:23px;height:48px;background:#efcb9d;"></div><div class="a" style="left:893px;top:484px;width:21px;height:48px;background:#c0c0c0;"></div><div class="a" style="left:915px;top:484px;width:39px;height:48px;background:#c0c0c0;"></div><div class="a" style="left:955px;top:484px;width:128px;height:48px;background:#9ecaef;"></div><div class="c n" style="left:869px;top:484px;width:23px;height:48px;line-height:48px">6</div><div class="c w" style="left:893px;top:485px;width:21px;height:48px;line-height:48px">Mi</div><div class="c k" style="left:915px;top:485px;width:39px;height:48px;line-height:48px">19 KW</div><div class="a" style="left:869px;top:533px;width:23px;height:48px;background:#efcb9d;"></div><div class="a" style="left:893px;top:533px;width:21px;height:48px;background:#c0c0c0;"></div><div class="a" style="left:915px;top:533px;width:39px;height:48px;background:#c0c0c0;"></div><div class="a" style="left:955px;top:533px;width:128px;height:48px;background:#9ecaef;"></div><div class="c n" style="left:869px;top:533px;width:23px;height:48px;line-height:48px">7</div><div class="c w" style="left:893px;top:534px;width:21px;height:48px;line-height:48px">Do</div><div class="c k" style="left:915px;top:534px;width:39px;height:48px;line-height:48px">19 KW</div><div class="a" style="left:869px;top:582px;width:23px;height:48px;background:#efcb9d;"></div><div class="a" style="left:893px;top:582px;width:21px;height:48px;background:#c0c0c0;"></div><div class="a" style="left:915px;top:582px;width:39px;height:48px;background:#c0c0c0;"></div><div class="a" style="left:955px;top:582px;width:128px;height:48px;background:#9ecaef;"></div><div class="c n" style="left:869px;top:582px;width:23px;height:48px;line-height:48px">8</div><div class="c w" style="left:893px;top:583px;width:21px;height:48px;line-height:48px">Fr</div><div class="c k" style="left:915px;top:583px;width:39px;height:48px;line-height:48px">19 KW</div><div class="a" style="left:869px;top:631px;width:23px;height:48px;background:#efcb9d;"></div><div class="a" style="left:893px;top:631px;width:21px;height:48px;background:#efcb9d;"></div><div class="a" style="left:915px;top:631px;width:39px;height:48px;background:#efcb9d;"></div><div class="a" style="left:955px;top:631px;width:128px;height:48px;background:#efcb9d;"></div><div class="c n" style="left:869px;top:631px;width:23px;height:48px;line-height:48px">9</div><div class="c w" style="left:893px;top:632px;width:21px;height:48px;line-height:48px">Sa</div><div class="c k" style="left:915px;top:632px;width:39px;height:48px;line-height:48px">19 KW</div><div class="a" style="left:869px;top:680px;width:23px;height:48px;background:#efcb9d;"></div><div class="a" style="left:893px;top:680px;width:21px;height:48px;background:#efcb9d;"></div><div class="a" style="left:915px;top:680px;width:39px;height:48px;background:#efcb9d;"></div><div class="a" style="left:955px;top:680px;width:128px;height:48px;background:#efcb9d;"></div><div class="c n" style="left:869px;top:680px;width:23px;height:48px;line-height:48px">10</div><div class="c w" style="left:893px;top:681px;width:21px;height:48px;line-height:48px">So</div><div class="c k" style="left:915px;top:681px;width:39px;height:48px;line-height:48px">19 KW</div><div class="a" style="left:869px;top:729px;width:23px;height:48px;background:#efcb9d;"></div><div class="a" style="left:893px;top:729px;width:21px;height:48px;background:#c0c0c0;"></div><div class="a" style="left:915px;top:729px;width:39px;height:48px;background:#c0c0c0;"></div><div class="a" style="left:955px;top:729px;width:128px;height:48px;background:#9ecaef;"></div><div class="c n" style="left:869px;top:729px;width:23px;height:48px;line-height:48px">11</div><div class="c w" style="left:893px;top:730px;width:21px;height:48px;line-height:48px">Mo</div><div class="c k" style="left:915px;top:730px;width:39px;height:48px;line-height:48px">20 KW</div><div class="a" style="left:869px;top:778px;width:23px;height:48px;background:#efcb9d;"></div><div class="a" style="left:893px;top:778px;width:21px;height:48px;background:#c0c0c0;"></div><div class="a" style="left:915px;top:778px;width:39px;height:48px;background:#c0c0c0;"></div><div class="a" style="left:955px;top:778px;width:128px;height:48px;background:#9ecaef;"></div><div class="c n" style="left:869px;top:778px;width:23px;height:48px;line-height:48px">12</div><div class="c w" style="left:893px;top:779px;width:21px;height:48px;line-height:48px">Di</div><div class="c k" style="left:915px;top:779px;width:39px;height:48px;line-height:48px">20 KW</div><div class="a" style="left:869px;top:827px;width:23px;height:48px;background:#efcb9d;"></div><div class="a" style="left:893px;top:827px;width:21px;height:48px;background:#c0c0c0;"></div><div class="a" style="left:915px;top:827px;width:39px;height:48px;background:#c0c0c0;"></div><div class="a" style="left:955px;top:827px;width:128px;height:48px;background:#9ecaef;"></div><div class="c n" style="left:869px;top:827px;width:23px;height:48px;line-height:48px">13</div><div class="c w" style="left:893px;top:828px;width:21px;height:48px;line-height:48px">Mi</div><div class="c k" style="left:915px;top:828px;width:39px;height:48px;line-height:48px">20 KW</div><div class="a" style="left:1085px;top:239px;width:23px;height:48px;background:#efcb9d;"></div><div class="a" style="left:1109px;top:239px;width:21px;height:48px;background:#c0c0c0;"></div><div class="a" style="left:1131px;top:239px;width:39px;height:48px;background:#c0c0c0;"></div><div class="a" style="left:1171px;top:239px;width:128px;height:48px;background:#9ecaef;"></div><div class="c n" style="left:1085px;top:239px;width:23px;height:48px;line-height:48px">1</div><div class="c w" style="left:1109px;top:240px;width:21px;height:48px;line-height:48px">Mo</div><div class="c k" style="left:1131px;top:240px;width:39px;height:48px;line-height:48px">23 KW</div><div class="a" style="left:1085px;top:288px;width:23px;height:48px;background:#efcb9d;"></div><div class="a" style="left:1109px;top:288px;width:21px;height:48px;background:#c0c0c0;"></div><div class="a" style="left:1131px;top:288px;width:39px;height:48px;background:#c0c0c0;"></div><div class="a" style="left:1171px;top:288px;width:128px;height:48px;background:#9ecaef;"></div><div class="c n" style="left:1085px;top:288px;width:23px;height:48px;line-height:48px">2</div><div class="c w" style="left:1109px;top:289px;width:21px;height:48px;line-height:48px">Di</div><div class="c k" style="left:1131px;top:289px;width:39px;height:48px;line-height:48px">23 KW</div><div class="a" style="left:1085px;top:337px;width:23px;height:48px;background:#efcb9d;"></div><div class="a" style="left:1109px;top:337px;width:21px;height:48px;background:#c0c0c0;"></div><div class="a" style="left:1131px;top:337px;width:39px;height:48px;background:#c0c0c0;"></div><div class="a" style="left:1171px;top:337px;width:128px;height:48px;background:#9ecaef;"></div><div class="c n" style="left:1085px;top:337px;width:23px;height:48px;line-height:48px">3</div><div class="c w" style="left:1109px;top:338px;width:21px;height:48px;line-height:48px">Mi</div><div class="c k" style="left:1131px;top:338px;width:39px;height:48px;line-height:48px">23 KW</div><div class="a" style="left:1085px;top:386px;width:23px;height:48px;background:#efcb9d;"></div><div class="a" style="left:1109px;top:386px;width:21px;height:48px;background:#c0c0c0;"></div><div class="a" style="left:1131px;top:386px;width:39px;height:48px;background:#c0c0c0;"></div><div class="a" style="left:1171px;top:386px;width:128px;height:48px;background:#9ecaef;"></div><div class="c n" style="left:1085px;top:386px;width:23px;height:48px;line-height:48px">4</div><div class="c w" style="left:1109px;top:387px;width:21px;height:48px;line-height:48px">Do</div><div class="c k" style="left:1131px;top:387px;width:39px;height:48px;line-height:48px">23 KW</div><div class="a" style="left:1085px;top:435px;width:23px;height:48px;background:#efcb9d;"></div><div class="a" style="left:1109px;top:435px;width:21px;height:48px;background:#c0c0c0;"></div><div class="a" style="left:1131px;top:435px;width:39px;height:48px;background:#c0c0c0;"></div><div class="a" style="left:1171px;top:435px;width:128px;height:48px;background:#9ecaef;"></div><div class="c n" style="left:1085px;top:435px;width:23px;height:48px;line-height:48px">5</div><div class="c w" style="left:1109px;top:436px;width:21px;height:48px;line-height:48px">Fr</div><div class="c k" style="left:1131px;top:436px;width:39px;height:48px;line-height:48px">23 KW</div><div class="a" style="left:1085px;top:484px;width:23px;height:48px;background:#efcb9d;"></div><div class="a" style="left:1109px;top:484px;width:21px;height:48px;background:#efcb9d;"></div><div class="a" style="left:1131px;top:484px;width:39px;height:48px;background:#efcb9d;"></div><div class="a" style="left:1171px;top:484px;width:128px;height:48px;background:#efcb9d;"></div><div class="c n" style="left:1085px;top:484px;width:23px;height:48px;line-height:48px">6</div><div class="c w" style="left:1109px;top:485px;width:21px;height:48px;line-height:48px">Sa</div><div class="c k" style="left:1131px;top:485px;width:39px;height:48px;line-height:48px">23 KW</div><div class="a" style="left:1085px;top:533px;width:23px;height:48px;background:#efcb9d;"></div><div class="a" style="left:1109px;top:533px;width:21px;height:48px;background:#efcb9d;"></div><div class="a" style="left:1131px;top:533px;width:39px;height:48px;background:#efcb9d;"></div><div class="a" style="left:1171px;top:533px;width:128px;height:48px;background:#efcb9d;"></div><div class="c n" style="left:1085px;top:533px;width:23px;height:48px;line-height:48px">7</div><div class="c w" style="left:1109px;top:534px;width:21px;height:48px;line-height:48px">So</div><div class="c k" style="left:1131px;top:534px;width:39px;height:48px;line-height:48px">23 KW</div><div class="a" style="left:1085px;top:582px;width:23px;height:48px;background:#efcb9d;"></div><div class="a" style="left:1109px;top:582px;width:21px;height:48px;background:#c0c0c0;"></div><div class="a" style="left:1131px;top:582px;width:39px;height:48px;background:#c0c0c0;"></div><div class="a" style="left:1171px;top:582px;width:128px;height:48px;background:#9ecaef;"></div><div class="c n" style="left:1085px;top:582px;width:23px;height:48px;line-height:48px">8</div><div class="c w" style="left:1109px;top:583px;width:21px;height:48px;line-height:48px">Mo</div><div class="c k" style="left:1131px;top:583px;width:39px;height:48px;line-height:48px">24 KW</div><div class="a" style="left:1085px;top:631px;width:23px;height:48px;background:#efcb9d;"></div><div class="a" style="left:1109px;top:631px;width:21px;height:48px;background:#c0c0c0;"></div><div class="a" style="left:1131px;top:631px;width:39px;height:48px;background:#c0c0c0;"></div><div class="a" style="left:1171px;top:631px;width:128px;height:48px;background:#9ecaef;"></div><div class="c n" style="left:1085px;top:631px;width:23px;height:48px;line-height:48px">9</div><div class="c w" style="left:1109px;top:632px;width:21px;height:48px;line-height:48px">Di</div><div class="c k" style="left:1131px;top:632px;width:39px;height:48px;line-height:48px">24 KW</div><div class="a" style="left:1085px;top:680px;width:23px;height:48px;background:#efcb9d;"></div><div class="a" style="left:1109px;top:680px;width:21px;height:48px;background:#c0c0c0;"></div><div class="a" style="left:1131px;top:680px;width:39px;height:48px;background:#c0c0c0;"></div><div class="a" style="left:1171px;top:680px;width:128px;height:48px;background:#9ecaef;"></div><div class="c n" style="left:1085px;top:680px;width:23px;height:48px;line-height:48px">10</div><div class="c w" style="left:1109px;top:681px;width:21px;height:48px;line-height:48px">Mi</div><div class="c k" style="left:1131px;top:681px;width:39px;height:48px;line-height:48px">24 KW</div><div class="a" style="left:1085px;top:729px;width:23px;height:48px;background:#efcb9d;"></div><div class="a" style="left:1109px;top:729px;width:21px;height:48px;background:#c0c0c0;"></div><div class="a" style="left:1131px;top:729px;width:39px;height:48px;background:#c0c0c0;"></div><div class="a" style="left:1171px;top:729px;width:128px;height:48px;background:#9ecaef;"></div><div class="c n" style="left:1085px;top:729px;width:23px;height:48px;line-height:48px">11</div><div class="c w" style="left:1109px;top:730px;width:21px;height:48px;line-height:48px">Do</div><div class="c k" style="left:1131px;top:730px;width:39px;height:48px;line-height:48px">24 KW</div><div class="a" style="left:1085px;top:778px;width:23px;height:48px;background:#efcb9d;"></div><div class="a" style="left:1109px;top:778px;width:21px;height:48px;background:#c0c0c0;"></div><div class="a" style="left:1131px;top:778px;width:39px;height:48px;background:#c0c0c0;"></div><div class="a" style="left:1171px;top:778px;width:128px;height:48px;background:#9ecaef;"></div><div class="c n" style="left:1085px;top:778px;width:23px;height:48px;line-height:48px">12</div><div class="c w" style="left:1109px;top:779px;width:21px;height:48px;line-height:48px">Fr</div><div class="c k" style="left:1131px;top:779px;width:39px;height:48px;line-height:48px">24 KW</div><div class="a" style="left:1085px;top:827px;width:23px;height:48px;background:#efcb9d;"></div><div class="a" style="left:1109px;top:827px;width:21px;height:48px;background:#efcb9d;"></div><div class="a" style="left:1131px;top:827px;width:39px;height:48px;background:#efcb9d;"></div><div class="a" style="left:1171px;top:827px;width:128px;height:48px;background:#efcb9d;"></div><div class="c n" style="left:1085px;top:827px;width:23px;height:48px;line-height:48px">13</div><div class="c w" style="left:1109px;top:828px;width:21px;height:48px;line-height:48px">Sa</div><div class="c k" style="left:1131px;top:828px;width:39px;height:48px;line-height:48px">24 KW</div><div class="a" style="left:3px;top:238px;width:1294px;height:1px;background:#000;"></div><div class="a" style="left:3px;top:287px;width:1294px;height:1px;background:#000;"></div><div class="a" style="left:3px;top:336px;width:1294px;height:1px;background:#000;"></div><div class="a" style="left:3px;top:385px;width:1294px;height:1px;background:#000;"></div><div class="a" style="left:3px;top:434px;width:1294px;height:1px;background:#000;"></div><div class="a" style="left:3px;top:483px;width:1294px;height:1px;background:#000;"></div><div class="a" style="left:3px;top:532px;width:1294px;height:1px;background:#000;"></div><div class="a" style="left:3px;top:581px;width:1294px;height:1px;background:#000;"></div><div class="a" style="left:3px;top:630px;width:1294px;height:1px;background:#000;"></div><div class="a" style="left:3px;top:679px;width:1294px;height:1px;background:#000;"></div><div class="a" style="left:3px;top:728px;width:1294px;height:1px;background:#000;"></div><div class="a" style="left:3px;top:777px;width:1294px;height:1px;background:#000;"></div><div class="a" style="left:3px;top:826px;width:1294px;height:1px;background:#000;"></div><div class="a" style="left:3px;top:238px;width:2px;height:612px;background:#000;"></div><div class="a" style="left:28px;top:238px;width:1px;height:612px;background:#000;"></div><div class="a" style="left:50px;top:238px;width:1px;height:612px;background:#000;"></div><div class="a" style="left:90px;top:238px;width:1px;height:612px;background:#000;"></div><div class="a" style="left:219px;top:238px;width:2px;height:612px;background:#000;"></div><div class="a" style="left:244px;top:238px;width:1px;height:612px;background:#000;"></div><div class="a" style="left:266px;top:238px;width:1px;height:612px;background:#000;"></div><div class="a" style="left:306px;top:238px;width:1px;height:612px;background:#000;"></div><div class="a" style="left:435px;top:238px;width:2px;height:612px;background:#000;"></div><div class="a" style="left:460px;top:238px;width:1px;height:612px;background:#000;"></div><div class="a" style="left:482px;top:238px;width:1px;height:612px;background:#000;"></div><div class="a" style="left:522px;top:238px;width:1px;height:612px;background:#000;"></div><div class="a" style="left:651px;top:238px;width:2px;height:612px;background:#000;"></div><div class="a" style="left:676px;top:238px;width:1px;height:612px;background:#000;"></div><div class="a" style="left:698px;top:238px;width:1px;height:612px;background:#000;"></div><div class="a" style="left:738px;top:238px;width:1px;height:612px;background:#000;"></div><div class="a" style="left:867px;top:238px;width:2px;height:612px;background:#000;"></div><div class="a" style="left:892px;top:238px;width:1px;height:612px;background:#000;"></div><div class="a" style="left:914px;top:238px;width:1px;height:612px;background:#000;"></div><div class="a" style="left:954px;top:238px;width:1px;height:612px;background:#000;"></div><div class="a" style="left:1083px;top:238px;width:2px;height:612px;background:#000;"></div><div class="a" style="left:1108px;top:238px;width:1px;height:612px;background:#000;"></div><div class="a" style="left:1130px;top:238px;width:1px;height:612px;background:#000;"></div><div class="a" style="left:1170px;top:238px;width:1px;height:612px;background:#000;"></div><div class="a" style="left:40px;top:800px;width:21px;height:8px;border-radius:4px;background:rgba(250,250,250,0.65);filter:blur(1.2px)"></div><div class="a" style="left:0px;top:847px;width:1300px;height:1px;background:rgba(200,208,214,0.7);"></div><div class="a" style="left:0px;top:848px;width:1300px;height:2px;background:#cdd1d4;"></div><div class="a" style="left:1297px;top:0px;width:3px;height:850px;background:#d4d4d4;"></div><div class="a" style="left:1296px;top:3px;width:1px;height:845px;background:rgba(212,212,212,0.4);"></div>
</body></html>
